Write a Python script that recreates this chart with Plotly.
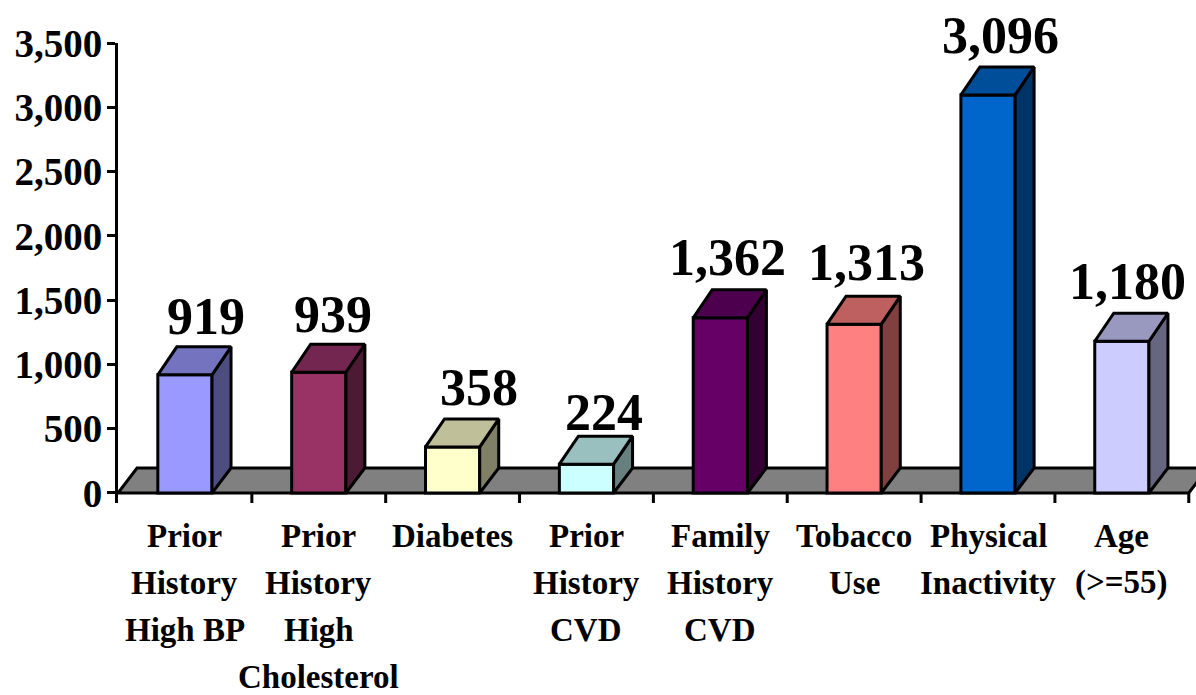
import plotly.graph_objects as go

# Risk factor counts, one bar per factor
categories = [
    ["Prior", "History", "High BP"],
    ["Prior", "History", "High", "Cholesterol"],
    ["Diabetes"],
    ["Prior", "History", "CVD"],
    ["Family", "History", "CVD"],
    ["Tobacco", "Use"],
    ["Physical", "Inactivity"],
    ["Age", "(>=55)"],
]
values = [919, 939, 358, 224, 1362, 1313, 3096, 1180]
value_labels = ["919", "939", "358", "224", "1,362", "1,313", "3,096", "1,180"]
y_ticks = [0, 500, 1000, 1500, 2000, 2500, 3000, 3500]
y_tick_labels = ["0", "500", "1,000", "1,500", "2,000", "2,500", "3,000", "3,500"]

# Bar face colours
front_colors = ["#9999FF", "#993366", "#FFFFCC", "#CCFFFF",
                "#660066", "#FF8080", "#0066CC", "#CCCCFF"]
top_colors = ["#7373BF", "#732650", "#BFBF99", "#99BFBF",
              "#4D004D", "#BF6060", "#004D99", "#9999BF"]
side_colors = ["#4D4D80", "#4D1A33", "#808066", "#668080",
               "#330033", "#804040", "#003366", "#666680"]

# Offsets of each value label from its bar, in pixels
label_nudge_x = [21, 14, 26, 18, 7, 12, 12, 6]
label_nudge_y = [30, 30, 31, 24, 32, 34, 31, 32]

FONT = "Liberation Serif"
INK = "#000000"
BAR_WIDTH = 0.405
DEPTH_X = 0.142      # oblique depth, category units
DEPTH_FLOOR = 194    # rise of the depth edge at the floor, value units
DEPTH_TOP = 218      # rise of the depth edge at the bar tops, value units
N = len(values)

fig = go.Figure()

# Front faces
fig.add_trace(go.Bar(
    x=[i + 0.5 for i in range(N)], y=values, width=BAR_WIDTH,
    marker=dict(color=front_colors, line=dict(color=INK, width=3)),
    hoverinfo="skip", showlegend=False,
))

# Side and top faces derived from each value
for i, v in enumerate(values):
    left = i + 0.5 - BAR_WIDTH / 2
    right = i + 0.5 + BAR_WIDTH / 2
    fig.add_trace(go.Scatter(
        x=[right, right + DEPTH_X, right + DEPTH_X, right, right],
        y=[0, DEPTH_FLOOR, v + DEPTH_TOP, v, 0],
        mode="lines", fill="toself", fillcolor=side_colors[i],
        line=dict(color=INK, width=3), hoverinfo="skip", showlegend=False,
    ))
    fig.add_trace(go.Scatter(
        x=[left, left + DEPTH_X, right + DEPTH_X, right, left],
        y=[v, v + DEPTH_TOP, v + DEPTH_TOP, v, v],
        mode="lines", fill="toself", fillcolor=top_colors[i],
        line=dict(color=INK, width=3), hoverinfo="skip", showlegend=False,
    ))

# Category tick marks below the floor
tick_x, tick_y = [], []
for i in range(1, N + 1):
    tick_x += [i, i, None]
    tick_y += [0, -78, None]
fig.add_trace(go.Scatter(
    x=tick_x, y=tick_y, mode="lines", line=dict(color=INK, width=3),
    hoverinfo="skip", showlegend=False,
))

annotations = []
# Value labels above each bar
for i, v in enumerate(values):
    annotations.append(dict(
        x=i + 0.5, y=v + DEPTH_TOP, xref="x", yref="y", text=value_labels[i],
        showarrow=False, xanchor="center", yanchor="middle",
        xshift=label_nudge_x[i], yshift=label_nudge_y[i],
        font=dict(family=FONT, size=52, color=INK, weight="bold"),
    ))
# Category labels, one annotation per line for the wide line spacing
for i, lines in enumerate(categories):
    for k, line in enumerate(lines):
        annotations.append(dict(
            x=i + 0.5, y=0, xref="x", yref="y", text=line,
            showarrow=False, xanchor="center", yanchor="middle",
            yshift=-(43 + 47 * k),
            font=dict(family=FONT, size=33, color=INK, weight="bold"),
        ))

fig.update_layout(
    width=1196, height=695,
    margin=dict(l=117.5, r=0, t=43, b=192, autoexpand=False),
    paper_bgcolor="#FFFFFF", plot_bgcolor="#FFFFFF",
    showlegend=False, annotations=annotations,
    xaxis=dict(range=[0, 8.054], visible=False, fixedrange=True),
    yaxis=dict(
        range=[-78, 3500], tickmode="array",
        tickvals=y_ticks, ticktext=y_tick_labels,
        ticks="outside", ticklen=8, tickwidth=3, tickcolor=INK,
        showline=True, linecolor=INK, linewidth=3,
        showgrid=False, zeroline=False, fixedrange=True,
        ticklabelstandoff=-3,
        tickfont=dict(family=FONT, size=39, color=INK, weight="bold"),
    ),
    # Grey floor under the bars
    shapes=[dict(
        type="path", xref="x", yref="y", layer="below",
        path=f"M 0 0 L {DEPTH_X} {DEPTH_FLOOR} L {N + DEPTH_X} {DEPTH_FLOOR} L {N} 0 Z",
        fillcolor="#808080", line=dict(color=INK, width=3),
    )],
)

fig.write_html("out.html", config=dict(displayModeBar=False))
